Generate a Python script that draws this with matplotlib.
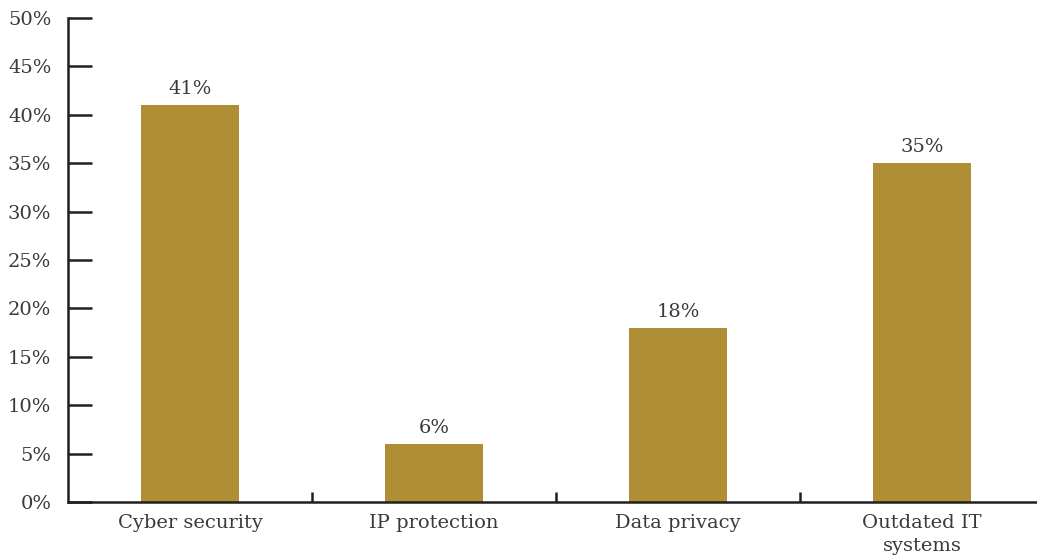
import numpy as np
import matplotlib.pyplot as plt
from matplotlib.ticker import FixedLocator

categories = ['Cyber security', 'IP protection', 'Data privacy', 'Outdated IT\nsystems']
values = [41, 6, 18, 35]
yticks = [0, 5, 10, 15, 20, 25, 30, 35, 40, 45, 50]

bar_color = '#B08E36'
text_color = '#3A3A3A'
axis_color = '#231F20'

plt.rcParams['font.family'] = ['DejaVu Serif']

fig = plt.figure(figsize=(10.37, 5.58), dpi=100)
ax = fig.add_axes([68 / 1037, 56 / 558, 969 / 1037, 484 / 558])

x = np.arange(len(categories))
bars = ax.bar(x, values, width=0.4, color=bar_color, zorder=2)

# value labels above bars
for xi, v in zip(x, values):
    ax.text(xi, v + 0.7, f'{v}%', ha='center', va='bottom', fontsize=14, color=text_color)

ax.set_xlim(-0.5, -0.5 + 969 / 244)
ax.set_ylim(0, 50)

ax.set_yticks(yticks)
ax.set_yticklabels([f'{t}%' for t in yticks], fontsize=14, color=text_color)
ax.set_xticks(x)
ax.set_xticklabels(categories, fontsize=14, color=text_color, linespacing=1.35)
ax.xaxis.set_minor_locator(FixedLocator([0.5, 1.5, 2.5]))

ax.tick_params(axis='y', direction='in', length=17, width=1.8, color=axis_color, pad=12)
ax.tick_params(axis='x', which='major', length=0, pad=9)
ax.tick_params(axis='x', which='minor', direction='in', length=7, width=1.8, color=axis_color)

for s in ['top', 'right']:
    ax.spines[s].set_visible(False)
for s in ['left', 'bottom']:
    ax.spines[s].set_color(axis_color)
    ax.spines[s].set_linewidth(1.8)

plt.savefig('out.png', dpi=100)
